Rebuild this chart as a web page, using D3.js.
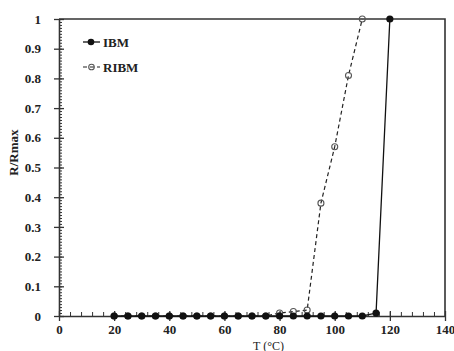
<!doctype html>
<html lang="en">
<head>
  <meta charset="utf-8">
  <title>R/Rmax vs T</title>
  <script src="https://d3js.org/d3.v7.min.js"></script>
  <style>
    body { margin: 0; background: #fff; }
    text { font-family: "Liberation Serif", "DejaVu Serif", serif; }
  </style>
</head>
<body>
  <div id='my_chart'></div>
<script>
  const width = 454;
  const height = 351;
  const margin = {top: 19, right: 9, bottom: 35, left: 59};
  const inner_w = width - margin.left - margin.right;
  const inner_h = height - margin.top - margin.bottom;

  // data
  const ibm_t = [20, 25, 30, 35, 40, 45, 50, 55, 60, 65, 70, 75, 80, 85, 90, 95, 100, 105, 110, 115, 120];
  const ibm_r = [0, 0, 0, 0, 0, 0, 0, 0, 0, 0, 0, 0, 0, 0, 0, 0, 0, 0, 0, 0.01, 1];
  const ribm_t = [20, 25, 30, 35, 40, 45, 50, 55, 60, 65, 70, 75, 80, 85, 90, 95, 100, 105, 110];
  const ribm_r = [0, 0, 0, 0, 0, 0, 0, 0, 0, 0, 0, 0, 0.01, 0.015, 0.02, 0.38, 0.57, 0.81, 1];
  const x_ticks = [0, 20, 40, 60, 80, 100, 120, 140];
  const y_ticks = [0, 0.1, 0.2, 0.3, 0.4, 0.5, 0.6, 0.7, 0.8, 0.9, 1];

  const ibm = ibm_t.map((t, i) => ({x: t, y: ibm_r[i]}));
  const ribm = ribm_t.map((t, i) => ({x: t, y: ribm_r[i]}));

  const x = d3.scaleLinear().domain([0, 140]).range([0, inner_w]);
  const y = d3.scaleLinear().domain([0, 1]).range([inner_h, 0]);

  const svg = d3.select('#my_chart').append('svg')
    .attr('width', width)
    .attr('height', height);

  const g = svg.append('g')
    .attr('transform', 'translate(' + margin.left + ',' + margin.top + ')');

  const axis_color = '#333';
  const font_size = 13;

  // minor ticks (inside)
  g.append('g')
    .attr('transform', 'translate(0,' + inner_h + ')')
    .call(d3.axisTop(x).tickValues(d3.range(0, 141, 4)).tickSize(4).tickFormat(''))
    .call(a => a.select('.domain').remove())
    .selectAll('line').attr('stroke', axis_color);
  g.append('g')
    .call(d3.axisRight(y).tickValues(d3.range(0, 101, 1).map(d => d / 100)).tickSize(3).tickFormat(''))
    .call(a => a.select('.domain').remove())
    .selectAll('line').attr('stroke', axis_color);

  // major axes
  const xa = g.append('g')
    .attr('transform', 'translate(0,' + inner_h + ')')
    .call(d3.axisBottom(x).tickValues(x_ticks).tickSize(5).tickPadding(4).tickSizeOuter(0));
  xa.selectAll('.tick line').attr('y1', -5);
  const ya = g.append('g')
    .call(d3.axisLeft(y).tickValues(y_ticks).tickSize(5).tickPadding(13).tickSizeOuter(0).tickFormat(d3.format('~g')));
  ya.selectAll('.tick line').attr('x1', 5);

  [xa, ya].forEach(a => {
    a.select('.domain').attr('stroke', axis_color).attr('stroke-width', 1.6);
    a.selectAll('.tick line').attr('stroke', axis_color).attr('stroke-width', 1.3);
    a.selectAll('text')
      .attr('fill', '#222')
      .style('font-size', font_size + 'px')
      .style('font-weight', 'bold');
  });

  // frame top and right
  g.append('path')
    .attr('d', 'M0,0H' + inner_w + 'V' + inner_h)
    .attr('fill', 'none')
    .attr('stroke', axis_color)
    .attr('stroke-width', 1.6);

  // axis titles
  svg.append('text')
    .attr('transform', 'translate(18,' + (margin.top + y(0.55)) + ') rotate(-90)')
    .attr('text-anchor', 'middle')
    .style('font-size', '13px')
    .style('font-weight', 'bold')
    .attr('fill', '#222')
    .text('R/Rmax');
  svg.append('text')
    .attr('x', margin.left + x(76))
    .attr('y', 350)
    .attr('text-anchor', 'middle')
    .style('font-size', '12px')
    .attr('fill', '#222')
    .text('T (°C)');

  const line = d3.line().x(d => x(d.x)).y(d => y(d.y));

  // RIBM
  g.append('path')
    .datum(ribm)
    .attr('fill', 'none')
    .attr('stroke', '#222')
    .attr('stroke-width', 1.2)
    .attr('stroke-dasharray', '4,3')
    .attr('d', line);
  g.selectAll('.ribm')
    .data(ribm)
    .enter().append('circle')
      .attr('class', 'ribm')
      .attr('cx', d => x(d.x))
      .attr('cy', d => y(d.y))
      .attr('r', 3)
      .attr('fill', 'none')
      .attr('stroke', '#555')
      .attr('stroke-width', 1.1);

  // IBM
  g.append('path')
    .datum(ibm)
    .attr('fill', 'none')
    .attr('stroke', '#111')
    .attr('stroke-width', 1.3)
    .attr('d', line);
  g.selectAll('.ibm')
    .data(ibm)
    .enter().append('circle')
      .attr('class', 'ibm')
      .attr('cx', d => x(d.x))
      .attr('cy', d => y(d.y))
      .attr('r', 3.6)
      .attr('fill', '#111');

  // legend
  const legend = svg.append('g').attr('transform', 'translate(83,42)');
  legend.append('line').attr('x1', 0).attr('x2', 17).attr('y1', 0).attr('y2', 0)
    .attr('stroke', '#111').attr('stroke-width', 1.3);
  legend.append('circle').attr('cx', 8).attr('cy', 0).attr('r', 3.3).attr('fill', '#111');
  legend.append('text').attr('x', 20).attr('y', 4.5)
    .style('font-size', '13px').style('font-weight', 'bold').attr('fill', '#222').text('IBM');

  legend.append('line').attr('x1', 0).attr('x2', 17).attr('y1', 25).attr('y2', 25)
    .attr('stroke', '#222').attr('stroke-width', 1.2).attr('stroke-dasharray', '4,3');
  legend.append('circle').attr('cx', 8.5).attr('cy', 25).attr('r', 2.8)
    .attr('fill', 'none').attr('stroke', '#555').attr('stroke-width', 1.1);
  legend.append('text').attr('x', 20).attr('y', 29.5)
    .style('font-size', '13px').style('font-weight', 'bold').attr('fill', '#222').text('RIBM');
</script>
</body>
</html>
